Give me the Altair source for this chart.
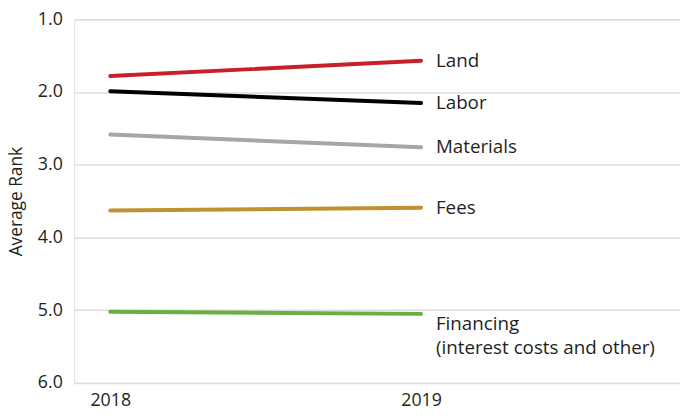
import altair as alt
import pandas as pd

categories = ["Land", "Labor", "Materials", "Fees", "Financing"]
years = [2018, 2019]
values_2018 = [1.78, 1.99, 2.585, 3.63, 5.02]
values_2019 = [1.57, 2.15, 2.76, 3.59, 5.05]
colors = ["#c8202a", "#000000", "#a6a6a6", "#c0922e", "#6aaf44"]
labels = ["Land", "Labor", "Materials", "Fees", ["Financing", "(interest costs and other)"]]

rows = []
for c, a, b in zip(categories, values_2018, values_2019):
    rows.append({"category": c, "year": years[0], "rank": a})
    rows.append({"category": c, "year": years[1], "rank": b})
df = pd.DataFrame(rows)

lab = pd.DataFrame({"category": categories, "year": [years[1]] * 5,
                    "rank": values_2019, "label": labels})

FONT = "Open Sans"
TXT = "#231f20"

x = alt.X("year:Q", scale=alt.Scale(domain=[2017.884, 2019.833], nice=False, zero=False),
          axis=alt.Axis(values=years, format="d", title=None, grid=False, ticks=False,
                        domain=False, labelFontSize=18, labelColor=TXT,
                        labelPadding=9, labelFont=FONT))
y = alt.Y("rank:Q", scale=alt.Scale(domain=[1, 6], reverse=True, nice=False, zero=False),
          axis=alt.Axis(values=[1, 2, 3, 4, 5, 6], format=".1f", title="Average Rank",
                        ticks=False, domain=False, grid=True, gridColor="#dcdcdc",
                        gridWidth=1.5, labelFontSize=18, labelColor=TXT,
                        labelPadding=12, labelFont=FONT, titleFont=FONT,
                        titleFontSize=17.5, titleFontWeight="normal", titleColor=TXT,
                        titleX=-49))

color = alt.Color("category:N", scale=alt.Scale(domain=categories, range=colors), legend=None)

lines = alt.Chart(df).mark_line(strokeWidth=4, strokeCap="round").encode(
    x=x, y=y, color=color, detail="category:N")

top_labels = alt.Chart(lab[lab.category != "Financing"]).mark_text(
    align="left", baseline="middle", dx=15, fontSize=19, font=FONT, color=TXT
).encode(x="year:Q", y="rank:Q", text="label:N")

fin_label = alt.Chart(lab[lab.category == "Financing"]).mark_text(
    align="left", baseline="top", dx=15, dy=1, fontSize=19, font=FONT, color=TXT,
    lineHeight=25
).encode(x="year:Q", y="rank:Q", text="label")

chart = alt.layer(lines, top_labels, fin_label).properties(
    width=613, height=368,
    autosize=alt.AutoSizeParams(type="none"),
    padding={"left": 67, "top": 9, "right": 0, "bottom": 30},
).configure_view(stroke=None).configure(background="white")

chart.save("out.html", embed_options={"renderer": "svg", "actions": False})
